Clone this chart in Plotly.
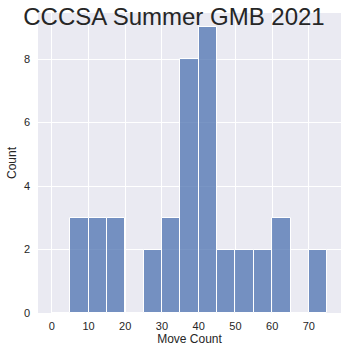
import plotly.graph_objects as go

bin_width = 5
bin_starts = [0, 5, 10, 15, 20, 25, 30, 35, 40, 45, 50, 55, 60, 65, 70]
counts = [0, 3, 3, 3, 0, 2, 3, 8, 9, 2, 2, 2, 3, 0, 2]
x_ticks = [0, 10, 20, 30, 40, 50, 60, 70]
y_ticks = [0, 2, 4, 6, 8]

centers = [s + bin_width / 2 for s in bin_starts]

fig = go.Figure(go.Bar(
    x=centers, y=counts, width=[bin_width] * len(centers),
    marker=dict(color="rgba(76,114,176,0.75)", line=dict(color="white", width=1)),
))

font = dict(family="Liberation Sans, Arial, sans-serif", color="#262626")
fig.update_layout(
    width=348, height=354,
    margin=dict(l=38, r=7, t=13, b=41),
    paper_bgcolor="white", plot_bgcolor="#EAEAF2",
    font=dict(size=11, **font),
    showlegend=False,
    bargap=0,
    title=dict(text="CCCSA Summer GMB 2021", x=0.5, xanchor="center",
               y=1 - 25 / 354, yanchor="bottom", yref="container",
               font=dict(size=24, **font), pad=dict(t=0, b=0)),
)
fig.update_xaxes(range=[-3.75, 78.75], tickvals=x_ticks, showgrid=True, gridcolor="white",
                 gridwidth=1, zeroline=False, showline=False, ticks="",
                 ticklabelstandoff=5,
                 title=dict(text="Move Count", font=dict(size=12, **font), standoff=3))
fig.update_yaxes(range=[0, 9.45], tickvals=y_ticks, showgrid=True, gridcolor="white",
                 gridwidth=1, zeroline=False, showline=False, ticks="",
                 ticklabelstandoff=7,
                 title=dict(text="Count", font=dict(size=12, **font), standoff=4))
fig.write_html("out.html")
